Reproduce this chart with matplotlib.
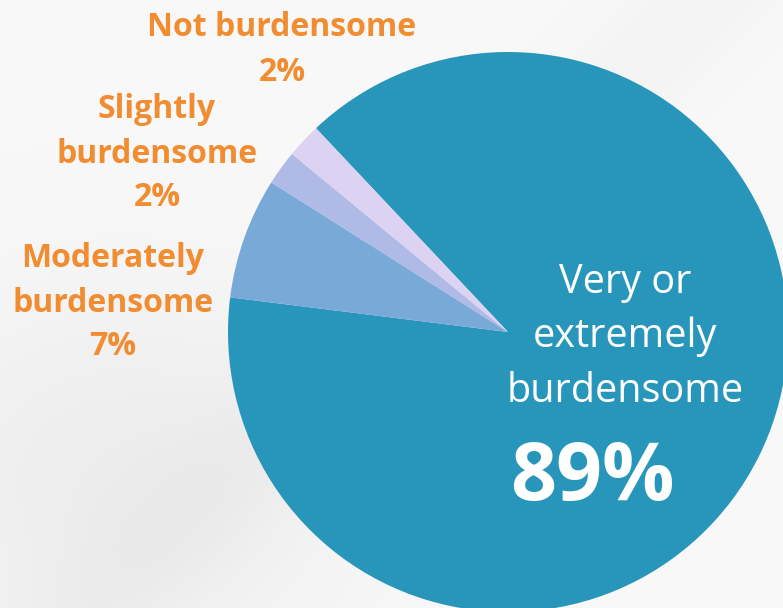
import numpy as np
import matplotlib
matplotlib.use("Agg")
import matplotlib.pyplot as plt

# ---- data ----
categories = ["Very or extremely burdensome", "Moderately burdensome",
              "Slightly burdensome", "Not burdensome"]
values = [89, 7, 2, 2]
colors = ["#2896BA", "#79A9D7", "#AFBAE6", "#DCD3F2"]
label_lines = {
    "Not burdensome": ["Not burdensome", "2%"],
    "Slightly burdensome": ["Slightly", "burdensome", "2%"],
    "Moderately burdensome": ["Moderately", "burdensome", "7%"],
}

W, H = 783, 608
fig = plt.figure(figsize=(W / 100, H / 100), dpi=100)
ax = fig.add_axes([0, 0, 1, 1])
ax.set_xlim(0, W)
ax.set_ylim(0, H)
ax.axis("off")

# soft light-grey background
yy, xx = np.mgrid[0:H, 0:W]
bg = 0.975 - 0.045 * np.exp(-((xx - 120) ** 2 / 60000 + (yy - 480) ** 2 / 40000))
bg -= 0.02 * np.exp(-((xx + yy - 700) ** 2) / 8000)
bg = np.clip(bg, 0, 1)
ax.imshow(np.dstack([bg, bg, bg]), extent=[0, W, 0, H], origin="upper", zorder=0)

cx, cy, r = 508, H - 332, 280
ax.pie(values, colors=colors, startangle=133.3, counterclock=False,
       center=(cx, cy), radius=r, frame=True,
       wedgeprops=dict(linewidth=0))
ax.set_xlim(0, W)
ax.set_ylim(0, H)
ax.set_aspect("equal")
ax.axis("off")

orange = "#F28C30"
fam = ["Open Sans", "DejaVu Sans"]

def lines(x, baselines, texts):
    for b, t in zip(baselines, texts):
        ax.text(x, H - b, t, ha="center", va="baseline", color=orange,
                fontsize=23, fontweight="bold", family=fam, zorder=5)

lines(282, [36, 81], label_lines["Not burdensome"])
lines(157, [118, 163, 206], label_lines["Slightly burdensome"])
lines(113, [267, 312, 355], label_lines["Moderately burdensome"])

for b, t in zip([293, 347, 402], ["Very or", "extremely", "burdensome"]):
    ax.text(625, H - b, t, ha="center", va="baseline", color="white",
            fontsize=28.5, family=fam, zorder=5)
ax.text(592, H - 500, f"{values[0]}%", ha="center", va="baseline", color="white",
        fontsize=58, fontweight="bold", family=fam, zorder=5)

fig.savefig("out.png", dpi=100)
